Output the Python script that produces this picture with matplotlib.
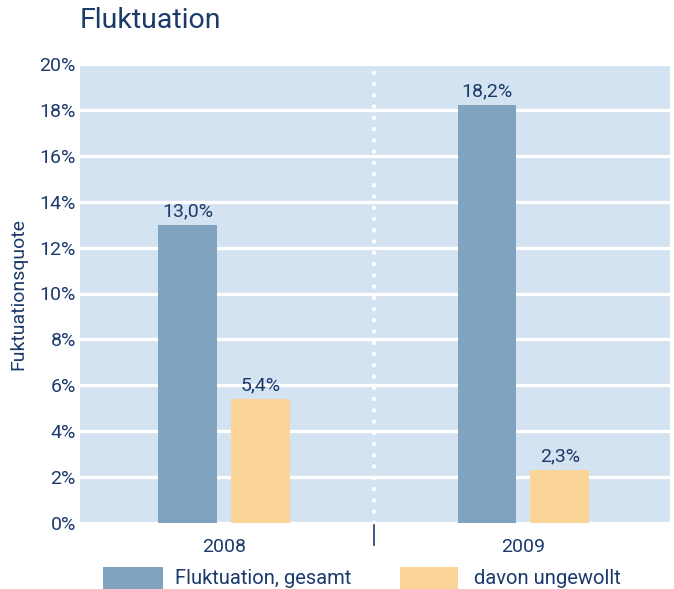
import matplotlib.pyplot as plt
from matplotlib.patches import Rectangle
import numpy as np

plt.rcParams['font.family'] = ['Roboto', 'DejaVu Sans']

years = ["2008", "2009"]
gesamt = [13.0, 18.2]
ungewollt = [5.4, 2.3]
series_names = ["Fluktuation, gesamt", "davon ungewollt"]
yticks = [0, 2, 4, 6, 8, 10, 12, 14, 16, 18, 20]

navy = "#1b3a6b"
bg = "#d3e3f1"
c_blue = "#80a4c0"
c_orange = "#fad597"

W, H = 674, 589
fig = plt.figure(figsize=(W/100, H/100), dpi=100)
ax = fig.add_axes([80/W, 1-523/H, 590/W, 459/H])
ax.set_facecolor(bg)

x = np.arange(len(years))
w = 0.197
off = 0.122
b1 = ax.bar(x - off, gesamt, w, color=c_blue, zorder=3)
b2 = ax.bar(x + off, ungewollt, w, color=c_orange, zorder=3)

for bars, vals in ((b1, gesamt), (b2, ungewollt)):
    for r, v in zip(bars, vals):
        ax.text(r.get_x() + r.get_width()/2, v + 0.2, f"{v:.1f}%".replace(".", ","),
                ha="center", va="bottom", color=navy, fontsize=14)

ax.set_ylim(0, 20)
ax.set_xlim(-0.483, 1.49)
ax.set_yticks(yticks)
ax.set_yticklabels([f"{t}%" for t in yticks])
ax.yaxis.grid(True, color="white", linewidth=2.4, zorder=1)
ax.set_axisbelow(True)
ax.tick_params(axis="y", length=0, labelcolor=navy, labelsize=14, pad=3)
ax.set_xticks(x)
ax.set_xticklabels(years)
ax.tick_params(axis="x", length=0, labelcolor=navy, labelsize=14, pad=11)
for s in ax.spines.values():
    s.set_visible(False)

# dotted divider between years
ax.axvline(0.5, ymin=0, ymax=1, color="white", linestyle=(0, (0.1, 2.6)),
           linewidth=3, dash_capstyle="round", zorder=2)
ax.plot([0.5, 0.5], [-0.1, -0.95], color=navy, linewidth=1.2, clip_on=False)

ax.set_ylabel("Fuktuationsquote", color=navy, fontsize=14)
ax.yaxis.set_label_coords(-0.09, 0.5)

fig.text(80/W, 1-21/H, "Fluktuation", color=navy, fontsize=20.5, va="center", ha="left")

# legend drawn in figure coordinates
for (px0, px1, tx), name, col in zip([(103, 163, 175), (400, 458, 474)], series_names,
                                     [c_blue, c_orange]):
    fig.add_artist(Rectangle((px0/W, 0), (px1-px0)/W, 22/H, transform=fig.transFigure,
                             facecolor=col, edgecolor="none"))
    fig.text(tx/W, 1-578/H, name, color=navy, fontsize=14.5, va="center", ha="left")

fig.savefig("out.png", dpi=100)
